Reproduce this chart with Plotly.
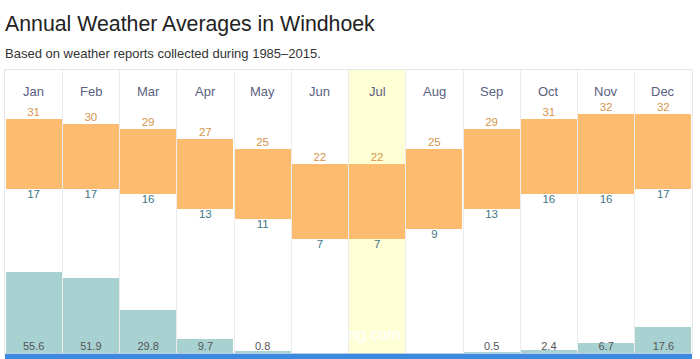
import plotly.graph_objects as go

months = ["Jan", "Feb", "Mar", "Apr", "May", "Jun", "Jul", "Aug", "Sep", "Oct", "Nov", "Dec"]
temp_high = [31, 30, 29, 27, 25, 22, 22, 25, 29, 31, 32, 32]
temp_low = [17, 17, 16, 13, 11, 7, 7, 9, 13, 16, 16, 17]
precip = [55.6, 51.9, 29.8, 9.7, 0.8, 0, 0, 0, 0.5, 2.4, 6.7, 17.6]
precip_labels = ["55.6", "51.9", "29.8", "9.7", "0.8", "", "", "", "0.5", "2.4", "6.7", "17.6"]
highlight_month = "Jul"

xs = list(range(len(months)))
font = "Liberation Sans, Arial, sans-serif"

fig = go.Figure()

# temperature range bars
fig.add_trace(go.Bar(
    x=xs, y=[h - l for h, l in zip(temp_high, temp_low)], base=temp_low,
    width=0.975, marker=dict(color="#fdbb6f", line=dict(width=0)),
    hoverinfo="skip", yaxis="y"))
# high labels
fig.add_trace(go.Scatter(
    x=xs, y=temp_high, mode="text", text=[str(v) for v in temp_high],
    textposition="top center", textfont=dict(color="#d6954a", size=11.5, family=font),
    hoverinfo="skip", yaxis="y", cliponaxis=False))
# low labels
fig.add_trace(go.Scatter(
    x=xs, y=temp_low, mode="text", text=[str(v) for v in temp_low],
    textposition="bottom center", textfont=dict(color="#3f7585", size=11.5, family=font),
    hoverinfo="skip", yaxis="y", cliponaxis=False))
# precipitation bars
fig.add_trace(go.Bar(
    x=xs, y=precip, width=0.975, marker=dict(color="#a8d2d2", line=dict(width=0)),
    hoverinfo="skip", yaxis="y2"))
fig.add_trace(go.Scatter(
    x=xs, y=[0] * len(xs), mode="text", text=precip_labels,
    textposition="top center", textfont=dict(color="#555555", size=11, family=font),
    hoverinfo="skip", yaxis="y2", cliponaxis=False))

hi = months.index(highlight_month)
shapes = [
    dict(type="rect", xref="x", yref="paper", x0=hi - 0.5, x1=hi + 0.5, y0=0, y1=1,
         fillcolor="#ffffd6", line=dict(width=0), layer="below"),
    dict(type="rect", xref="x", yref="paper", x0=-0.5, x1=11.5, y0=-0.023, y1=-0.003,
         fillcolor="#3c8ae0", line=dict(width=0), layer="above"),
]

annotations = [
    dict(x=i, y=0.957, xref="x", yref="paper", text=m, showarrow=False,
         font=dict(size=13, color="#5a6180", family=font))
    for i, m in enumerate(months)
]
annotations.append(dict(x=hi - 0.05, y=0.03, xref="x", yref="paper", text="ng.com",
                        showarrow=False, font=dict(size=16, color="#ffffff", family=font)))
annotations.append(dict(x=0.0, y=1.0, xref="paper", yref="paper", yshift=46, xanchor="left",
                        yanchor="middle", text="Annual Weather Averages in Windhoek",
                        showarrow=False, xshift=-2,
                        font=dict(size=21.3, color="#222222", family=font)))
annotations.append(dict(x=0.0, y=1.0, xref="paper", yref="paper", yshift=17, xanchor="left",
                        yanchor="middle", xshift=-2,
                        text="Based on weather reports collected during 1985–2015.",
                        showarrow=False, font=dict(size=13, color="#333333", family=font)))

fig.update_layout(
    width=700, height=359,
    margin=dict(l=5, r=8, t=70, b=6, autoexpand=False),
    paper_bgcolor="#ffffff", plot_bgcolor="rgba(0,0,0,0)",
    showlegend=False, barmode="overlay", bargap=0,
    xaxis=dict(range=[-0.5, 11.5], showticklabels=False, ticks="",
               showgrid=True, gridcolor="#ececec", gridwidth=1, tick0=0.5, dtick=1,
               showline=True, linecolor="#e6e6e6", mirror=True, zeroline=False, fixedrange=True),
    yaxis=dict(range=[-15.74, 40.86], showticklabels=False, showgrid=False, zeroline=False,
               ticks="", showline=True, linecolor="#e6e6e6", mirror=True),
    yaxis2=dict(range=[0, 195.2], overlaying="y", showticklabels=False, showgrid=False,
                zeroline=False, ticks=""),
    shapes=shapes,
    annotations=annotations,
)

fig.write_html("out.html", config={"displayModeBar": False},
               post_script="document.body.style.margin='0';document.body.style.overflow='hidden';")
